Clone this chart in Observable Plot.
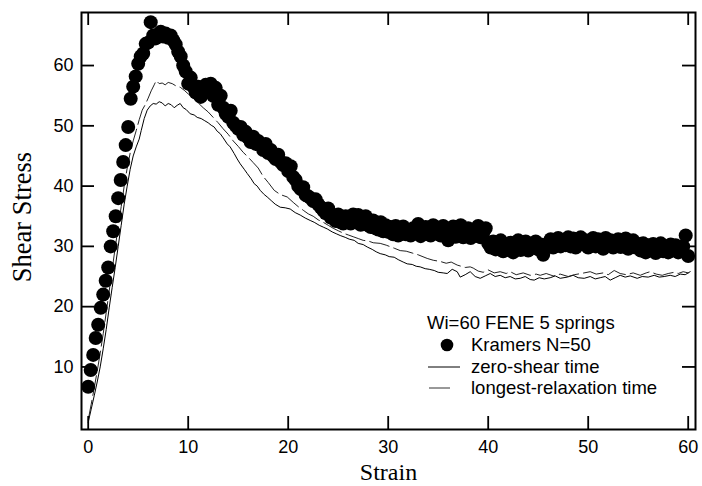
<!DOCTYPE html>
<html>
<head>
<meta charset="utf-8">
<script src="https://cdn.jsdelivr.net/npm/d3@7"></script>
<script src="https://cdn.jsdelivr.net/npm/@observablehq/plot@0.6"></script>
<style>
  html, body { margin: 0; padding: 0; background: #fff; }
  #chart { width: 702px; height: 486px; }
</style>
</head>
<body>
<div id="chart"></div>
<script>
// ---- Data ----
const xTicks = [0, 10, 20, 30, 40, 50, 60];
const yTicks = [10, 20, 30, 40, 50, 60];

const kramersStrain = [
  0,0.25,0.5,0.75,1,1.25,1.5,1.75,2,2.25,2.5,2.75,3,3.25,3.5,3.75,4,4.25,4.5,4.75,
  5,5.25,5.5,5.75,6,6.25,6.5,6.75,7,7.25,7.5,7.75,8,8.25,8.5,8.75,9,9.25,9.5,9.75,
  10,10.25,10.5,10.75,11,11.25,11.5,11.75,12,12.25,12.5,12.75,13,13.25,13.5,13.75,14,14.25,14.5,14.75,
  15,15.25,15.5,15.75,16,16.25,16.5,16.75,17,17.25,17.5,17.75,18,18.25,18.5,18.75,19,19.25,19.5,19.75,
  20,20.25,20.5,20.75,21,21.25,21.5,21.75,22,22.25,22.5,22.75,23,23.25,23.5,23.75,24,24.25,24.5,24.75,
  25,25.25,25.5,25.75,26,26.25,26.5,26.75,27,27.25,27.5,27.75,28,28.25,28.5,28.75,29,29.25,29.5,29.75,
  30,30.25,30.5,30.75,31,31.25,31.5,31.75,32,32.25,32.5,32.75,33,33.25,33.5,33.75,34,34.25,34.5,34.75,
  35,35.25,35.5,35.75,36,36.25,36.5,36.75,37,37.25,37.5,37.75,38,38.25,38.5,38.75,39,39.25,39.5,39.75,
  40,40.25,40.5,40.75,41,41.25,41.5,41.75,42,42.25,42.5,42.75,43,43.25,43.5,43.75,44,44.25,44.5,44.75,
  45,45.25,45.5,45.75,46,46.25,46.5,46.75,47,47.25,47.5,47.75,48,48.25,48.5,48.75,49,49.25,49.5,49.75,
  50,50.25,50.5,50.75,51,51.25,51.5,51.75,52,52.25,52.5,52.75,53,53.25,53.5,53.75,54,54.25,54.5,54.75,
  55,55.25,55.5,55.75,56,56.25,56.5,56.75,57,57.25,57.5,57.75,58,58.25,58.5,58.75,59,59.25,59.5,59.75,
  60
];
const kramersStress = [
  6.7,9.5,12.0,14.8,17.0,19.8,22.0,24.3,26.5,30.0,32.5,35.0,38.0,41.0,44.0,46.8,49.8,54.5,56.5,58.2,
  60.3,61.5,62.0,63.6,63.8,67.2,65.0,64.5,65.2,65.6,64.8,65.3,64.6,65.0,64.2,63.5,62.3,61.5,60.0,59.0,
  57.0,58.0,56.5,55.5,56.5,54.8,55.5,56.8,56.2,57.0,55.0,56.3,53.5,55.0,53.0,52.0,51.5,52.5,50.5,50.0,
  49.5,49.8,48.5,49.0,48.0,47.3,48.2,47.0,47.5,46.8,46.0,47.0,45.5,46.0,45.0,44.5,45.2,44.0,43.5,43.8,
  42.5,43.3,41.5,41.0,40.0,39.5,39.8,38.5,38.3,38.0,37.5,37.8,37.0,36.5,36.0,35.5,36.3,34.8,35.0,34.2,
  35.3,34.0,33.8,35.0,34.5,33.8,35.3,34.0,35.2,33.6,34.0,35.0,33.5,33.2,34.3,33.0,32.8,34.0,32.5,33.5,
  32.4,33.2,32.0,33.4,31.8,32.5,33.3,32.0,32.6,31.8,33.0,32.3,33.7,31.7,32.5,33.2,32.0,31.8,33.5,32.2,
  33.0,31.8,33.4,32.0,31.0,32.6,33.3,31.6,32.8,33.5,31.5,32.4,33.0,31.4,32.5,31.8,33.4,31.5,32.2,33.0,
  30.5,29.8,30.8,29.5,30.2,31.0,29.2,30.0,29.5,30.6,29.0,30.2,31.0,29.4,30.0,30.8,29.3,30.4,29.8,30.8,
  29.5,30.3,28.6,29.8,30.5,31.2,29.8,30.5,31.4,30.0,31.0,30.2,31.5,30.0,31.3,29.8,30.6,31.5,30.3,31.0,
  29.8,30.8,31.4,30.0,31.2,30.2,29.6,31.4,30.4,31.0,29.8,30.6,31.2,29.9,30.6,31.3,29.6,30.5,31.0,29.8,
  30.4,29.3,30.5,29.0,30.2,29.6,30.4,28.9,29.8,30.5,29.2,30.0,29.0,30.3,29.5,30.2,29.0,29.8,30.0,31.8,
  28.4
];

const zeroShearStrain = [
  0,0.3,0.6,0.9,1.2,1.5,1.8,2.1,2.4,2.7,3.0,3.3,3.6,3.9,4.2,4.5,4.8,5.1,5.3,5.6,
  5.9,6.2,6.5,6.8,7.1,7.4,7.7,8.0,8.3,8.6,8.9,9.2,9.5,9.8,10.2,10.6,10.9,11.3,11.6,12.0,
  12.3,12.6,12.9,13.2,13.5,13.9,14.2,14.6,14.9,15.2,15.6,15.9,16.3,16.6,16.9,17.2,17.6,17.9,18.3,18.7,
  19.2,19.7,20.2,20.7,21.2,21.7,22.2,22.6,23.1,23.5,23.9,24.4,24.8,25.2,25.7,26.1,26.6,27.0,27.5,27.9,
  28.4,28.8,29.2,29.7,30.1,30.6,31.0,31.5,31.9,32.4,32.8,33.2,33.7,34.1,34.6,35.0,35.5,35.9,36.4,36.9,
  37.2,37.7,38.2,38.7,39.2,39.7,40.2,40.7,41.2,41.7,42.2,42.7,43.2,43.7,44.2,44.6,45.1,45.6,46.2,46.7,
  47.2,47.9,48.5,49.0,49.6,50.2,50.7,51.2,51.7,52.2,52.7,53.2,53.7,54.2,54.9,55.4,56.0,56.6,57.1,57.6,
  58.2,58.7,59.2,59.7,60.2
];
const zeroShearStress = [
  0.8,3.0,5.2,7.5,10.0,13.0,16.2,19.8,23.2,26.5,30.0,33.5,37.0,40.0,42.8,45.0,46.5,47.8,49.2,51.2,
  52.6,53.3,53.7,53.6,54.0,53.8,53.3,53.7,53.5,53.0,53.4,53.7,53.0,52.7,52.0,51.8,51.4,51.2,50.9,50.5,
  50.1,49.8,49.1,48.7,48.0,47.0,46.5,45.4,44.5,43.7,42.8,42.1,41.2,40.4,40.0,39.3,38.6,38.2,37.6,37.0,
  36.5,36.4,36.2,35.6,35.2,34.7,34.3,34.0,33.5,33.2,32.9,32.4,32.1,31.8,31.5,31.2,31.0,30.5,30.3,29.9,
  29.5,29.1,28.8,28.6,28.3,28.2,27.8,27.4,27.1,27.0,26.7,26.6,26.3,26.2,26.0,25.7,25.6,25.5,26.2,25.8,
  24.9,25.3,25.8,25.0,24.7,25.1,25.5,25.0,25.2,24.8,25.0,24.6,24.7,25.0,24.5,24.4,24.8,24.6,24.8,25.1,
  24.7,24.9,25.2,24.8,24.7,25.0,24.6,24.8,25.0,24.4,24.8,25.2,24.9,25.1,24.7,25.0,24.9,25.2,24.9,25.0,
  25.2,25.0,25.4,25.3,25.8
];

const longestStrain = [
  0,0.3,0.6,0.9,1.2,1.5,1.8,2.1,2.4,2.7,3.0,3.3,3.6,3.9,4.2,4.5,4.8,5.1,5.4,5.7,
  6.0,6.3,6.6,6.8,7.1,7.4,7.7,8.0,8.4,8.8,9.2,9.6,10.0,10.5,11.0,11.5,12.0,12.5,13.0,13.5,
  14.0,14.5,15.0,15.5,16.0,16.5,17.0,17.5,18.0,18.6,19.2,19.9,20.5,21.0,21.5,22.0,22.5,23.0,23.5,24.0,
  24.5,25.0,25.5,26.0,26.5,27.0,27.5,28.0,28.5,29.2,29.8,30.6,31.2,31.8,32.4,33.0,33.9,34.5,35.2,35.8,
  36.3,36.9,37.7,38.2,38.5,39.0,39.5,40.0,40.6,41.2,41.8,42.2,42.8,43.5,44.2,44.8,45.2,45.8,46.5,47.2,
  48.0,48.6,49.3,50.2,50.8,51.5,52.0,52.6,53.2,53.8,54.5,55.2,55.8,56.2,56.8,57.4,58.0,58.6,59.0,59.5,
  60.0
];
const longestStress = [
  1.2,3.8,6.5,9.3,12.3,15.5,19.0,22.6,26.2,29.8,33.2,36.6,40.0,43.0,45.5,47.5,49.2,51.0,52.6,53.5,
  54.6,55.8,56.8,57.5,57.0,57.1,56.8,57.2,57.0,56.6,56.4,55.9,55.3,54.6,53.8,53.0,52.3,51.4,50.5,49.5,
  48.6,47.5,46.6,45.6,44.8,43.9,43.0,41.6,40.6,39.3,38.6,38.2,37.3,36.6,36.0,35.4,35.0,34.4,34.0,33.5,
  33.0,32.6,32.2,31.9,31.6,31.3,31.0,30.9,30.6,30.5,30.2,29.7,29.3,29.2,28.9,28.6,28.0,27.7,27.5,27.2,
  27.4,26.9,26.5,26.6,26.4,25.9,25.7,26.1,25.6,25.8,25.5,25.8,25.3,25.6,25.2,25.4,25.2,25.5,25.1,25.4,
  25.0,25.3,25.5,25.8,25.4,25.6,25.3,26.0,25.5,25.3,25.6,25.2,25.6,25.8,25.4,25.2,25.5,25.7,25.5,25.8,
  25.6
];

const legendTitle = "Wi=60 FENE 5 springs";
const legendLabels = ["Kramers N=50", "zero-shear time", "longest-relaxation time"];

// ---- Tables built from the arrays ----
const kramers = kramersStrain.map((s, i) => ({strain: s, stress: kramersStress[i]}));
const zeroShear = zeroShearStrain.map((s, i) => ({strain: s, stress: zeroShearStress[i]}));
const longest = longestStrain.map((s, i) => ({strain: s, stress: longestStress[i]}));

const SANS = "'Liberation Sans', Arial, Helvetica, sans-serif";
const SERIF = "'Liberation Serif', 'Times New Roman', Times, serif";

const W = 702, H = 486;
const mL = 81, mR = 7, mT = 12, mB = 57;
const innerW = W - mL - mR, innerH = H - mT - mB;
const tickLen = 13;

function legendMark() {
  const g = d3.create("svg:g")
    .attr("font-family", SANS)
    .attr("font-size", 18.5)
    .attr("text-anchor", "start")
    .attr("fill", "black");
  g.append("text").attr("x", 427).attr("y", 323).attr("dy", "0.35em").text(legendTitle);
  g.append("circle").attr("cx", 447).attr("cy", 345).attr("r", 6.3).attr("fill", "black");
  g.append("text").attr("x", 471).attr("y", 345).attr("dy", "0.35em").text(legendLabels[0]);
  g.append("line").attr("x1", 428).attr("x2", 460).attr("y1", 367).attr("y2", 367)
    .attr("stroke", "black").attr("stroke-width", 1);
  g.append("text").attr("x", 471).attr("y", 367).attr("dy", "0.35em").text(legendLabels[1]);
  g.append("line").attr("x1", 429).attr("x2", 450).attr("y1", 388).attr("y2", 388)
    .attr("stroke", "#333").attr("stroke-width", 1);
  g.append("text").attr("x", 471).attr("y", 388).attr("dy", "0.35em").text(legendLabels[2]);
  return g.node();
}

const chart = Plot.plot({
  width: W,
  height: H,
  marginLeft: mL,
  marginRight: mR,
  marginTop: mT,
  marginBottom: mB,
  style: {background: "white", color: "black", fontFamily: SANS, fontSize: "18px", overflow: "visible"},
  x: {domain: [-0.67, 60.73], ticks: xTicks, tickSize: 0, tickPadding: 11, label: null},
  y: {domain: [-0.38, 68.8], ticks: yTicks, tickSize: 0, tickPadding: 8, label: null},
  marks: [
    Plot.line(zeroShear, {x: "strain", y: "stress", stroke: "black", strokeWidth: 1, curve: "linear"}),
    Plot.line(longest, {x: "strain", y: "stress", stroke: "#222", strokeWidth: 1, strokeDasharray: "20,5", curve: "linear"}),
    Plot.dot(kramers, {x: "strain", y: "stress", r: 7, fill: "black", stroke: "none"}),
    // inward ticks on all four sides
    Plot.tickX(xTicks, {x: d => d, insetTop: innerH - tickLen, stroke: "black", strokeWidth: 1.8}),
    Plot.tickX(xTicks, {x: d => d, insetBottom: innerH - tickLen, stroke: "black", strokeWidth: 1.8}),
    Plot.tickY(yTicks, {y: d => d, insetRight: innerW - tickLen, stroke: "black", strokeWidth: 1.8}),
    Plot.tickY(yTicks, {y: d => d, insetLeft: innerW - tickLen, stroke: "black", strokeWidth: 1.8}),
    Plot.frame({stroke: "black", strokeWidth: 2}),
    Plot.text(["Strain"], {frameAnchor: "bottom", lineAnchor: "middle", dy: 43, fontFamily: SERIF, fontSize: 24, fill: "black"}),
    Plot.text(["Shear Stress"], {frameAnchor: "left", textAnchor: "middle", lineAnchor: "middle", dx: -59, dy: -4, rotate: -90, fontFamily: SERIF, fontSize: 26.5, fill: "black"}),
    legendMark
  ]
});

document.getElementById("chart").appendChild(chart);
</script>
</body>
</html>
